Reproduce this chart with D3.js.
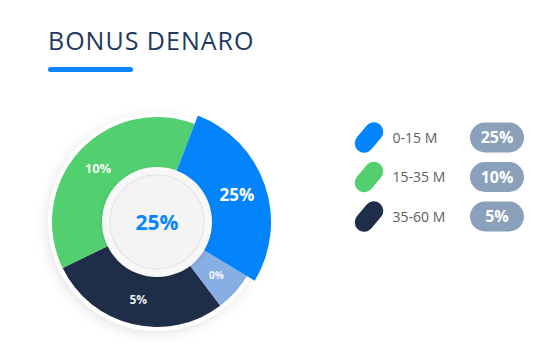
<!DOCTYPE html>
<html>
<head>
<meta charset="utf-8">
<script src="https://cdn.jsdelivr.net/npm/d3@7/dist/d3.min.js"></script>
<style>
  html, body { margin: 0; padding: 0; background: #ffffff; }
  svg { display: block; font-family: "Open Sans", "Noto Sans", sans-serif; }
</style>
</head>
<body>
<svg id="chart" width="551" height="353"></svg>
<script>
// ---------- data ----------
const title = "BONUS DENARO";
const categories = ["0-15 M", "15-35 M", "35-60 M"];
const legendValues = ["25%", "10%", "5%"];
const sliceNames = ["0-15 M", "altro", "35-60 M", "15-35 M"];
const sliceWeights = [100, 22, 101, 137];
const sliceLabels = ["25%", "0%", "5%", "10%"];
const centerLabel = "25%";

// ---------- style ----------
const sliceColors = ["#0384fc", "#88afe3", "#1e2e48", "#52cf6f"];
const sliceOuter = [114, 105, 105, 105];
const sliceFont = [17, 10, 12, 13];
const legendColors = ["#0384fc", "#52cf6f", "#1e2e48"];
const cx = 157, cy = 222, innerR = 55;

const svg = d3.select("#chart");
const defs = svg.append("defs");
const f1 = defs.append("filter").attr("id", "sh").attr("x", "-30%").attr("y", "-30%").attr("width", "160%").attr("height", "160%");
f1.append("feDropShadow").attr("dx", -2).attr("dy", 3).attr("stdDeviation", 6).attr("flood-color", "#000").attr("flood-opacity", 0.10);
const f2 = defs.append("filter").attr("id", "sh2").attr("x", "-30%").attr("y", "-30%").attr("width", "160%").attr("height", "160%");
f2.append("feDropShadow").attr("dx", 0).attr("dy", 1).attr("stdDeviation", 2).attr("flood-color", "#000").attr("flood-opacity", 0.12);

// title
svg.append("text").attr("x", 48).attr("y", 49.5)
  .attr("font-size", 25).attr("fill", "#213a5e").attr("letter-spacing", 1.0)
  .text(title);
svg.append("rect").attr("x", 48).attr("y", 67).attr("width", 85).attr("height", 5)
  .attr("rx", 2.5).attr("fill", "#0a84ff");

// donut
const g = svg.append("g").attr("transform", `translate(${cx},${cy})`);
g.append("circle").attr("r", 109).attr("fill", "#fff").attr("filter", "url(#sh)");

const toRad = Math.PI / 180;
const pie = d3.pie().sort(null).value(d => d)
  .startAngle(21 * toRad).endAngle(381 * toRad);
const arcs = pie(sliceWeights);

const order = [1, 2, 3, 0]; // draw the enlarged slice last
order.forEach(i => {
  const a = arcs[i];
  const arc = d3.arc().innerRadius(innerR - 2).outerRadius(sliceOuter[i]);
  g.append("path").attr("d", arc(a)).attr("fill", sliceColors[i]);
});

// inner circle
g.append("circle").attr("r", innerR).attr("fill", "#f8f8f8").attr("filter", "url(#sh2)");
g.append("circle").attr("r", 47).attr("fill", "#f4f4f4").attr("stroke", "#e8e8e8").attr("stroke-width", 1.5);
g.append("text").attr("text-anchor", "middle").attr("dy", "0.36em")
  .attr("font-size", 21).attr("font-weight", 700).attr("fill", "#0a84ff")
  .text(centerLabel);

// slice labels
arcs.forEach((a, i) => {
  const arc = d3.arc().innerRadius(innerR).outerRadius(sliceOuter[i]);
  const [x, y] = arc.centroid(a);
  g.append("text").attr("x", x).attr("y", y).attr("dy", "0.36em")
    .attr("text-anchor", "middle").attr("font-size", sliceFont[i])
    .attr("font-weight", 700).attr("fill", "#ffffff")
    .attr("fill-opacity", i === 0 ? 1 : 0.92)
    .text(sliceLabels[i]);
});

// legend
const rowY = d3.scalePoint().domain(categories).range([137.5, 216.5]);
categories.forEach((c, i) => {
  const y = rowY(c);
  const lg = svg.append("g");
  lg.append("rect").attr("x", -17).attr("y", -9.5).attr("width", 34).attr("height", 19).attr("rx", 9.5)
    .attr("fill", legendColors[i])
    .attr("transform", `translate(369,${y}) rotate(-50)`);
  lg.append("text").attr("x", 392.5).attr("y", y).attr("dy", "0.36em")
    .attr("font-size", 14).attr("fill", "#5e5e5e").text(c);
  lg.append("rect").attr("x", 470).attr("y", y - 15).attr("width", 54).attr("height", 30)
    .attr("rx", 15).attr("fill", "#8aa0bb");
  lg.append("text").attr("x", 497).attr("y", y).attr("dy", "0.36em")
    .attr("text-anchor", "middle").attr("font-size", 16).attr("font-weight", 700)
    .attr("fill", "#ffffff").text(legendValues[i]);
});
</script>
</body>
</html>
